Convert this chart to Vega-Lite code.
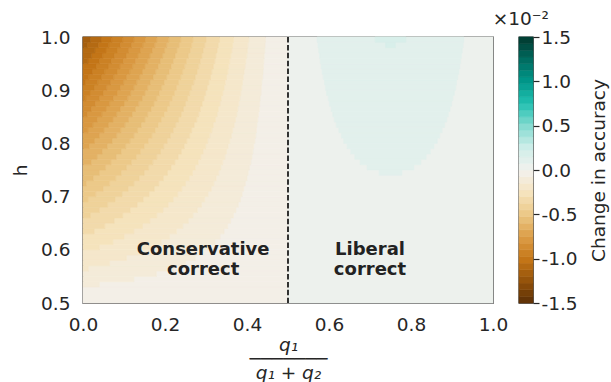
{
"$schema": "https://vega.github.io/schema/vega-lite/v6.json",
"background": "white",
"padding": {"left": 10, "top": 8, "right": 2, "bottom": 0},
"bounds": "flush",
"spacing": 26,
"config": {"font": "DejaVu Sans", "view": {"stroke": "#333333", "strokeWidth": 1.4}},
"hconcat": [
{
"width": 410, "height": 266,
"layer": [
{
"data": {"values": [
{"x1":0,"x2":0.5,"h1":0.5,"h2":0.53,"v":-0.0375},
{"x1":0.5,"x2":1,"h1":0.5,"h2":1,"v":0.0375},
{"x1":0.04,"x2":0.5,"h1":0.53,"h2":0.54,"v":-0.0375},
{"x1":0,"x2":0.04,"h1":0.53,"h2":0.54,"v":-0.1125},
{"x1":0.124,"x2":0.5,"h1":0.54,"h2":0.55,"v":-0.0375},
{"x1":0,"x2":0.124,"h1":0.54,"h2":0.55,"v":-0.1125},
{"x1":0.179,"x2":0.5,"h1":0.55,"h2":0.56,"v":-0.0375},
{"x1":0,"x2":0.179,"h1":0.55,"h2":0.56,"v":-0.1125},
{"x1":0.22,"x2":0.5,"h1":0.56,"h2":0.57,"v":-0.0375},
{"x1":0.013,"x2":0.22,"h1":0.56,"h2":0.57,"v":-0.1125},
{"x1":0,"x2":0.013,"h1":0.56,"h2":0.57,"v":-0.1875},
{"x1":0.25,"x2":0.5,"h1":0.57,"h2":0.58,"v":-0.0375},
{"x1":0.065,"x2":0.25,"h1":0.57,"h2":0.58,"v":-0.1125},
{"x1":0,"x2":0.065,"h1":0.57,"h2":0.58,"v":-0.1875},
{"x1":0.274,"x2":0.5,"h1":0.58,"h2":0.59,"v":-0.0375},
{"x1":0.106,"x2":0.274,"h1":0.58,"h2":0.59,"v":-0.1125},
{"x1":0,"x2":0.106,"h1":0.58,"h2":0.59,"v":-0.1875},
{"x1":0.293,"x2":0.5,"h1":0.59,"h2":0.6,"v":-0.0375},
{"x1":0.139,"x2":0.293,"h1":0.59,"h2":0.6,"v":-0.1125},
{"x1":0,"x2":0.139,"h1":0.59,"h2":0.6,"v":-0.1875},
{"x1":0.309,"x2":0.5,"h1":0.6,"h2":0.61,"v":-0.0375},
{"x1":0.167,"x2":0.309,"h1":0.6,"h2":0.61,"v":-0.1125},
{"x1":0.04,"x2":0.167,"h1":0.6,"h2":0.61,"v":-0.1875},
{"x1":0,"x2":0.04,"h1":0.6,"h2":0.61,"v":-0.2625},
{"x1":0.322,"x2":0.5,"h1":0.61,"h2":0.62,"v":-0.0375},
{"x1":0.191,"x2":0.322,"h1":0.61,"h2":0.62,"v":-0.1125},
{"x1":0.073,"x2":0.191,"h1":0.61,"h2":0.62,"v":-0.1875},
{"x1":0,"x2":0.073,"h1":0.61,"h2":0.62,"v":-0.2625},
{"x1":0.334,"x2":0.5,"h1":0.62,"h2":0.63,"v":-0.0375},
{"x1":0.211,"x2":0.334,"h1":0.62,"h2":0.63,"v":-0.1125},
{"x1":0.1,"x2":0.211,"h1":0.62,"h2":0.63,"v":-0.1875},
{"x1":0,"x2":0.1,"h1":0.62,"h2":0.63,"v":-0.2625},
{"x1":0.344,"x2":0.5,"h1":0.63,"h2":0.64,"v":-0.0375},
{"x1":0.228,"x2":0.344,"h1":0.63,"h2":0.64,"v":-0.1125},
{"x1":0.124,"x2":0.228,"h1":0.63,"h2":0.64,"v":-0.1875},
{"x1":0.027,"x2":0.124,"h1":0.63,"h2":0.64,"v":-0.2625},
{"x1":0,"x2":0.027,"h1":0.63,"h2":0.64,"v":-0.3375},
{"x1":0.353,"x2":0.5,"h1":0.64,"h2":0.65,"v":-0.0375},
{"x1":0.243,"x2":0.353,"h1":0.64,"h2":0.65,"v":-0.1125},
{"x1":0.145,"x2":0.243,"h1":0.64,"h2":0.65,"v":-0.1875},
{"x1":0.053,"x2":0.145,"h1":0.64,"h2":0.65,"v":-0.2625},
{"x1":0,"x2":0.053,"h1":0.64,"h2":0.65,"v":-0.3375},
{"x1":0.36,"x2":0.5,"h1":0.65,"h2":0.66,"v":-0.0375},
{"x1":0.257,"x2":0.36,"h1":0.65,"h2":0.66,"v":-0.1125},
{"x1":0.163,"x2":0.257,"h1":0.65,"h2":0.66,"v":-0.1875},
{"x1":0.076,"x2":0.163,"h1":0.65,"h2":0.66,"v":-0.2625},
{"x1":0,"x2":0.076,"h1":0.65,"h2":0.66,"v":-0.3375},
{"x1":0.367,"x2":0.5,"h1":0.66,"h2":0.67,"v":-0.0375},
{"x1":0.268,"x2":0.367,"h1":0.66,"h2":0.67,"v":-0.1125},
{"x1":0.18,"x2":0.268,"h1":0.66,"h2":0.67,"v":-0.1875},
{"x1":0.097,"x2":0.18,"h1":0.66,"h2":0.67,"v":-0.2625},
{"x1":0.018,"x2":0.097,"h1":0.66,"h2":0.67,"v":-0.3375},
{"x1":0,"x2":0.018,"h1":0.66,"h2":0.67,"v":-0.4125},
{"x1":0.373,"x2":0.5,"h1":0.67,"h2":0.68,"v":-0.0375},
{"x1":0.279,"x2":0.373,"h1":0.67,"h2":0.68,"v":-0.1125},
{"x1":0.195,"x2":0.279,"h1":0.67,"h2":0.68,"v":-0.1875},
{"x1":0.115,"x2":0.195,"h1":0.67,"h2":0.68,"v":-0.2625},
{"x1":0.04,"x2":0.115,"h1":0.67,"h2":0.68,"v":-0.3375},
{"x1":0,"x2":0.04,"h1":0.67,"h2":0.68,"v":-0.4125},
{"x1":0.379,"x2":0.5,"h1":0.68,"h2":0.69,"v":-0.0375},
{"x1":0.289,"x2":0.379,"h1":0.68,"h2":0.69,"v":-0.1125},
{"x1":0.208,"x2":0.289,"h1":0.68,"h2":0.69,"v":-0.1875},
{"x1":0.132,"x2":0.208,"h1":0.68,"h2":0.69,"v":-0.2625},
{"x1":0.06,"x2":0.132,"h1":0.68,"h2":0.69,"v":-0.3375},
{"x1":0,"x2":0.06,"h1":0.68,"h2":0.69,"v":-0.4125},
{"x1":0.384,"x2":0.5,"h1":0.69,"h2":0.7,"v":-0.0375},
{"x1":0.297,"x2":0.384,"h1":0.69,"h2":0.7,"v":-0.1125},
{"x1":0.22,"x2":0.297,"h1":0.69,"h2":0.7,"v":-0.1875},
{"x1":0.147,"x2":0.22,"h1":0.69,"h2":0.7,"v":-0.2625},
{"x1":0.078,"x2":0.147,"h1":0.69,"h2":0.7,"v":-0.3375},
{"x1":0.012,"x2":0.078,"h1":0.69,"h2":0.7,"v":-0.4125},
{"x1":0,"x2":0.012,"h1":0.69,"h2":0.7,"v":-0.4875},
{"x1":0.388,"x2":0.5,"h1":0.7,"h2":0.71,"v":-0.0375},
{"x1":0.305,"x2":0.388,"h1":0.7,"h2":0.71,"v":-0.1125},
{"x1":0.231,"x2":0.305,"h1":0.7,"h2":0.71,"v":-0.1875},
{"x1":0.161,"x2":0.231,"h1":0.7,"h2":0.71,"v":-0.2625},
{"x1":0.095,"x2":0.161,"h1":0.7,"h2":0.71,"v":-0.3375},
{"x1":0.031,"x2":0.095,"h1":0.7,"h2":0.71,"v":-0.4125},
{"x1":0,"x2":0.031,"h1":0.7,"h2":0.71,"v":-0.4875},
{"x1":0.392,"x2":0.5,"h1":0.71,"h2":0.72,"v":-0.0375},
{"x1":0.313,"x2":0.392,"h1":0.71,"h2":0.72,"v":-0.1125},
{"x1":0.241,"x2":0.313,"h1":0.71,"h2":0.72,"v":-0.1875},
{"x1":0.174,"x2":0.241,"h1":0.71,"h2":0.72,"v":-0.2625},
{"x1":0.11,"x2":0.174,"h1":0.71,"h2":0.72,"v":-0.3375},
{"x1":0.049,"x2":0.11,"h1":0.71,"h2":0.72,"v":-0.4125},
{"x1":0,"x2":0.049,"h1":0.71,"h2":0.72,"v":-0.4875},
{"x1":0.396,"x2":0.5,"h1":0.72,"h2":0.73,"v":-0.0375},
{"x1":0.319,"x2":0.396,"h1":0.72,"h2":0.73,"v":-0.1125},
{"x1":0.25,"x2":0.319,"h1":0.72,"h2":0.73,"v":-0.1875},
{"x1":0.185,"x2":0.25,"h1":0.72,"h2":0.73,"v":-0.2625},
{"x1":0.124,"x2":0.185,"h1":0.72,"h2":0.73,"v":-0.3375},
{"x1":0.065,"x2":0.124,"h1":0.72,"h2":0.73,"v":-0.4125},
{"x1":0.008,"x2":0.065,"h1":0.72,"h2":0.73,"v":-0.4875},
{"x1":0,"x2":0.008,"h1":0.72,"h2":0.73,"v":-0.5625},
{"x1":0.4,"x2":0.5,"h1":0.73,"h2":0.74,"v":-0.0375},
{"x1":0.325,"x2":0.4,"h1":0.73,"h2":0.74,"v":-0.1125},
{"x1":0.259,"x2":0.325,"h1":0.73,"h2":0.74,"v":-0.1875},
{"x1":0.196,"x2":0.259,"h1":0.73,"h2":0.74,"v":-0.2625},
{"x1":0.137,"x2":0.196,"h1":0.73,"h2":0.74,"v":-0.3375},
{"x1":0.08,"x2":0.137,"h1":0.73,"h2":0.74,"v":-0.4125},
{"x1":0.025,"x2":0.08,"h1":0.73,"h2":0.74,"v":-0.4875},
{"x1":0,"x2":0.025,"h1":0.73,"h2":0.74,"v":-0.5625},
{"x1":0.403,"x2":0.5,"h1":0.74,"h2":0.75,"v":-0.0375},
{"x1":0.331,"x2":0.403,"h1":0.74,"h2":0.75,"v":-0.1125},
{"x1":0.267,"x2":0.331,"h1":0.74,"h2":0.75,"v":-0.1875},
{"x1":0.206,"x2":0.267,"h1":0.74,"h2":0.75,"v":-0.2625},
{"x1":0.149,"x2":0.206,"h1":0.74,"h2":0.75,"v":-0.3375},
{"x1":0.093,"x2":0.149,"h1":0.74,"h2":0.75,"v":-0.4125},
{"x1":0.04,"x2":0.093,"h1":0.74,"h2":0.75,"v":-0.4875},
{"x1":0,"x2":0.04,"h1":0.74,"h2":0.75,"v":-0.5625},
{"x1":0.406,"x2":0.5,"h1":0.75,"h2":0.76,"v":-0.0375},
{"x1":0.336,"x2":0.406,"h1":0.75,"h2":0.76,"v":-0.1125},
{"x1":0.274,"x2":0.336,"h1":0.75,"h2":0.76,"v":-0.1875},
{"x1":0.215,"x2":0.274,"h1":0.75,"h2":0.76,"v":-0.2625},
{"x1":0.16,"x2":0.215,"h1":0.75,"h2":0.76,"v":-0.3375},
{"x1":0.106,"x2":0.16,"h1":0.75,"h2":0.76,"v":-0.4125},
{"x1":0.055,"x2":0.106,"h1":0.75,"h2":0.76,"v":-0.4875},
{"x1":0,"x2":0.055,"h1":0.75,"h2":0.76,"v":-0.5625},
{"x1":0.409,"x2":0.5,"h1":0.76,"h2":0.77,"v":-0.0375},
{"x1":0.341,"x2":0.409,"h1":0.76,"h2":0.77,"v":-0.1125},
{"x1":0.281,"x2":0.341,"h1":0.76,"h2":0.77,"v":-0.1875},
{"x1":0.224,"x2":0.281,"h1":0.76,"h2":0.77,"v":-0.2625},
{"x1":0.17,"x2":0.224,"h1":0.76,"h2":0.77,"v":-0.3375},
{"x1":0.118,"x2":0.17,"h1":0.76,"h2":0.77,"v":-0.4125},
{"x1":0.068,"x2":0.118,"h1":0.76,"h2":0.77,"v":-0.4875},
{"x1":0.02,"x2":0.068,"h1":0.76,"h2":0.77,"v":-0.5625},
{"x1":0,"x2":0.02,"h1":0.76,"h2":0.77,"v":-0.6375},
{"x1":0.412,"x2":0.5,"h1":0.77,"h2":0.78,"v":-0.0375},
{"x1":0.346,"x2":0.412,"h1":0.77,"h2":0.78,"v":-0.1125},
{"x1":0.287,"x2":0.346,"h1":0.77,"h2":0.78,"v":-0.1875},
{"x1":0.232,"x2":0.287,"h1":0.77,"h2":0.78,"v":-0.2625},
{"x1":0.18,"x2":0.232,"h1":0.77,"h2":0.78,"v":-0.3375},
{"x1":0.13,"x2":0.18,"h1":0.77,"h2":0.78,"v":-0.4125},
{"x1":0.081,"x2":0.13,"h1":0.77,"h2":0.78,"v":-0.4875},
{"x1":0.034,"x2":0.081,"h1":0.77,"h2":0.78,"v":-0.5625},
{"x1":0,"x2":0.034,"h1":0.77,"h2":0.78,"v":-0.6375},
{"x1":0.414,"x2":0.5,"h1":0.78,"h2":0.79,"v":-0.0375},
{"x1":0.35,"x2":0.414,"h1":0.78,"h2":0.79,"v":-0.1125},
{"x1":0.293,"x2":0.35,"h1":0.78,"h2":0.79,"v":-0.1875},
{"x1":0.24,"x2":0.293,"h1":0.78,"h2":0.79,"v":-0.2625},
{"x1":0.189,"x2":0.24,"h1":0.78,"h2":0.79,"v":-0.3375},
{"x1":0.14,"x2":0.189,"h1":0.78,"h2":0.79,"v":-0.4125},
{"x1":0.093,"x2":0.14,"h1":0.78,"h2":0.79,"v":-0.4875},
{"x1":0.047,"x2":0.093,"h1":0.78,"h2":0.79,"v":-0.5625},
{"x1":0,"x2":0.047,"h1":0.78,"h2":0.79,"v":-0.6375},
{"x1":0.416,"x2":0.5,"h1":0.79,"h2":0.8,"v":-0.0375},
{"x1":0.354,"x2":0.416,"h1":0.79,"h2":0.8,"v":-0.1125},
{"x1":0.299,"x2":0.354,"h1":0.79,"h2":0.8,"v":-0.1875},
{"x1":0.247,"x2":0.299,"h1":0.79,"h2":0.8,"v":-0.2625},
{"x1":0.197,"x2":0.247,"h1":0.79,"h2":0.8,"v":-0.3375},
{"x1":0.149,"x2":0.197,"h1":0.79,"h2":0.8,"v":-0.4125},
{"x1":0.104,"x2":0.149,"h1":0.79,"h2":0.8,"v":-0.4875},
{"x1":0.059,"x2":0.104,"h1":0.79,"h2":0.8,"v":-0.5625},
{"x1":0.015,"x2":0.059,"h1":0.79,"h2":0.8,"v":-0.6375},
{"x1":0,"x2":0.015,"h1":0.79,"h2":0.8,"v":-0.7125},
{"x1":0.419,"x2":0.5,"h1":0.8,"h2":0.81,"v":-0.0375},
{"x1":0.358,"x2":0.419,"h1":0.8,"h2":0.81,"v":-0.1125},
{"x1":0.304,"x2":0.358,"h1":0.8,"h2":0.81,"v":-0.1875},
{"x1":0.253,"x2":0.304,"h1":0.8,"h2":0.81,"v":-0.2625},
{"x1":0.205,"x2":0.253,"h1":0.8,"h2":0.81,"v":-0.3375},
{"x1":0.159,"x2":0.205,"h1":0.8,"h2":0.81,"v":-0.4125},
{"x1":0.114,"x2":0.159,"h1":0.8,"h2":0.81,"v":-0.4875},
{"x1":0.071,"x2":0.114,"h1":0.8,"h2":0.81,"v":-0.5625},
{"x1":0.028,"x2":0.071,"h1":0.8,"h2":0.81,"v":-0.6375},
{"x1":0,"x2":0.028,"h1":0.8,"h2":0.81,"v":-0.7125},
{"x1":0.421,"x2":0.5,"h1":0.81,"h2":0.82,"v":-0.0375},
{"x1":0.362,"x2":0.421,"h1":0.81,"h2":0.82,"v":-0.1125},
{"x1":0.309,"x2":0.362,"h1":0.81,"h2":0.82,"v":-0.1875},
{"x1":0.26,"x2":0.309,"h1":0.81,"h2":0.82,"v":-0.2625},
{"x1":0.213,"x2":0.26,"h1":0.81,"h2":0.82,"v":-0.3375},
{"x1":0.168,"x2":0.213,"h1":0.81,"h2":0.82,"v":-0.4125},
{"x1":0.124,"x2":0.168,"h1":0.81,"h2":0.82,"v":-0.4875},
{"x1":0.082,"x2":0.124,"h1":0.81,"h2":0.82,"v":-0.5625},
{"x1":0.04,"x2":0.082,"h1":0.81,"h2":0.82,"v":-0.6375},
{"x1":0,"x2":0.04,"h1":0.81,"h2":0.82,"v":-0.7125},
{"x1":0.423,"x2":0.5,"h1":0.82,"h2":0.83,"v":-0.0375},
{"x1":0.365,"x2":0.423,"h1":0.82,"h2":0.83,"v":-0.1125},
{"x1":0.314,"x2":0.365,"h1":0.82,"h2":0.83,"v":-0.1875},
{"x1":0.265,"x2":0.314,"h1":0.82,"h2":0.83,"v":-0.2625},
{"x1":0.22,"x2":0.265,"h1":0.82,"h2":0.83,"v":-0.3375},
{"x1":0.176,"x2":0.22,"h1":0.82,"h2":0.83,"v":-0.4125},
{"x1":0.133,"x2":0.176,"h1":0.82,"h2":0.83,"v":-0.4875},
{"x1":0.092,"x2":0.133,"h1":0.82,"h2":0.83,"v":-0.5625},
{"x1":0.051,"x2":0.092,"h1":0.82,"h2":0.83,"v":-0.6375},
{"x1":0.012,"x2":0.051,"h1":0.82,"h2":0.83,"v":-0.7125},
{"x1":0,"x2":0.012,"h1":0.82,"h2":0.83,"v":-0.7875},
{"x1":0.424,"x2":0.5,"h1":0.83,"h2":0.84,"v":-0.0375},
{"x1":0.369,"x2":0.424,"h1":0.83,"h2":0.84,"v":-0.1125},
{"x1":0.318,"x2":0.369,"h1":0.83,"h2":0.84,"v":-0.1875},
{"x1":0.271,"x2":0.318,"h1":0.83,"h2":0.84,"v":-0.2625},
{"x1":0.226,"x2":0.271,"h1":0.83,"h2":0.84,"v":-0.3375},
{"x1":0.183,"x2":0.226,"h1":0.83,"h2":0.84,"v":-0.4125},
{"x1":0.142,"x2":0.183,"h1":0.83,"h2":0.84,"v":-0.4875},
{"x1":0.102,"x2":0.142,"h1":0.83,"h2":0.84,"v":-0.5625},
{"x1":0.062,"x2":0.102,"h1":0.83,"h2":0.84,"v":-0.6375},
{"x1":0.024,"x2":0.062,"h1":0.83,"h2":0.84,"v":-0.7125},
{"x1":0,"x2":0.024,"h1":0.83,"h2":0.84,"v":-0.7875},
{"x1":0.426,"x2":0.5,"h1":0.84,"h2":0.85,"v":-0.0375},
{"x1":0.372,"x2":0.426,"h1":0.84,"h2":0.85,"v":-0.1125},
{"x1":0.323,"x2":0.372,"h1":0.84,"h2":0.85,"v":-0.1875},
{"x1":0.277,"x2":0.323,"h1":0.84,"h2":0.85,"v":-0.2625},
{"x1":0.233,"x2":0.277,"h1":0.84,"h2":0.85,"v":-0.3375},
{"x1":0.191,"x2":0.233,"h1":0.84,"h2":0.85,"v":-0.4125},
{"x1":0.151,"x2":0.191,"h1":0.84,"h2":0.85,"v":-0.4875},
{"x1":0.111,"x2":0.151,"h1":0.84,"h2":0.85,"v":-0.5625},
{"x1":0.073,"x2":0.111,"h1":0.84,"h2":0.85,"v":-0.6375},
{"x1":0.035,"x2":0.073,"h1":0.84,"h2":0.85,"v":-0.7125},
{"x1":0,"x2":0.035,"h1":0.84,"h2":0.85,"v":-0.7875},
{"x1":0.428,"x2":0.5,"h1":0.85,"h2":0.86,"v":-0.0375},
{"x1":0.375,"x2":0.428,"h1":0.85,"h2":0.86,"v":-0.1125},
{"x1":0.327,"x2":0.375,"h1":0.85,"h2":0.86,"v":-0.1875},
{"x1":0.282,"x2":0.327,"h1":0.85,"h2":0.86,"v":-0.2625},
{"x1":0.239,"x2":0.282,"h1":0.85,"h2":0.86,"v":-0.3375},
{"x1":0.198,"x2":0.239,"h1":0.85,"h2":0.86,"v":-0.4125},
{"x1":0.158,"x2":0.198,"h1":0.85,"h2":0.86,"v":-0.4875},
{"x1":0.12,"x2":0.158,"h1":0.85,"h2":0.86,"v":-0.5625},
{"x1":0.082,"x2":0.12,"h1":0.85,"h2":0.86,"v":-0.6375},
{"x1":0.046,"x2":0.082,"h1":0.85,"h2":0.86,"v":-0.7125},
{"x1":0.01,"x2":0.046,"h1":0.85,"h2":0.86,"v":-0.7875},
{"x1":0,"x2":0.01,"h1":0.85,"h2":0.86,"v":-0.8625},
{"x1":0.43,"x2":0.5,"h1":0.86,"h2":0.87,"v":-0.0375},
{"x1":0.377,"x2":0.43,"h1":0.86,"h2":0.87,"v":-0.1125},
{"x1":0.33,"x2":0.377,"h1":0.86,"h2":0.87,"v":-0.1875},
{"x1":0.286,"x2":0.33,"h1":0.86,"h2":0.87,"v":-0.2625},
{"x1":0.245,"x2":0.286,"h1":0.86,"h2":0.87,"v":-0.3375},
{"x1":0.205,"x2":0.245,"h1":0.86,"h2":0.87,"v":-0.4125},
{"x1":0.166,"x2":0.205,"h1":0.86,"h2":0.87,"v":-0.4875},
{"x1":0.128,"x2":0.166,"h1":0.86,"h2":0.87,"v":-0.5625},
{"x1":0.091,"x2":0.128,"h1":0.86,"h2":0.87,"v":-0.6375},
{"x1":0.056,"x2":0.091,"h1":0.86,"h2":0.87,"v":-0.7125},
{"x1":0.02,"x2":0.056,"h1":0.86,"h2":0.87,"v":-0.7875},
{"x1":0,"x2":0.02,"h1":0.86,"h2":0.87,"v":-0.8625},
{"x1":0.431,"x2":0.5,"h1":0.87,"h2":0.88,"v":-0.0375},
{"x1":0.38,"x2":0.431,"h1":0.87,"h2":0.88,"v":-0.1125},
{"x1":0.334,"x2":0.38,"h1":0.87,"h2":0.88,"v":-0.1875},
{"x1":0.291,"x2":0.334,"h1":0.87,"h2":0.88,"v":-0.2625},
{"x1":0.25,"x2":0.291,"h1":0.87,"h2":0.88,"v":-0.3375},
{"x1":0.211,"x2":0.25,"h1":0.87,"h2":0.88,"v":-0.4125},
{"x1":0.173,"x2":0.211,"h1":0.87,"h2":0.88,"v":-0.4875},
{"x1":0.136,"x2":0.173,"h1":0.87,"h2":0.88,"v":-0.5625},
{"x1":0.1,"x2":0.136,"h1":0.87,"h2":0.88,"v":-0.6375},
{"x1":0.065,"x2":0.1,"h1":0.87,"h2":0.88,"v":-0.7125},
{"x1":0.03,"x2":0.065,"h1":0.87,"h2":0.88,"v":-0.7875},
{"x1":0,"x2":0.03,"h1":0.87,"h2":0.88,"v":-0.8625},
{"x1":0.432,"x2":0.5,"h1":0.88,"h2":0.89,"v":-0.0375},
{"x1":0.382,"x2":0.432,"h1":0.88,"h2":0.89,"v":-0.1125},
{"x1":0.337,"x2":0.382,"h1":0.88,"h2":0.89,"v":-0.1875},
{"x1":0.295,"x2":0.337,"h1":0.88,"h2":0.89,"v":-0.2625},
{"x1":0.255,"x2":0.295,"h1":0.88,"h2":0.89,"v":-0.3375},
{"x1":0.217,"x2":0.255,"h1":0.88,"h2":0.89,"v":-0.4125},
{"x1":0.18,"x2":0.217,"h1":0.88,"h2":0.89,"v":-0.4875},
{"x1":0.144,"x2":0.18,"h1":0.88,"h2":0.89,"v":-0.5625},
{"x1":0.109,"x2":0.144,"h1":0.88,"h2":0.89,"v":-0.6375},
{"x1":0.074,"x2":0.109,"h1":0.88,"h2":0.89,"v":-0.7125},
{"x1":0.04,"x2":0.074,"h1":0.88,"h2":0.89,"v":-0.7875},
{"x1":0.007,"x2":0.04,"h1":0.88,"h2":0.89,"v":-0.8625},
{"x1":0,"x2":0.007,"h1":0.88,"h2":0.89,"v":-0.9375},
{"x1":0.434,"x2":0.5,"h1":0.89,"h2":0.9,"v":-0.0375},
{"x1":0.385,"x2":0.434,"h1":0.89,"h2":0.9,"v":-0.1125},
{"x1":0.341,"x2":0.385,"h1":0.89,"h2":0.9,"v":-0.1875},
{"x1":0.299,"x2":0.341,"h1":0.89,"h2":0.9,"v":-0.2625},
{"x1":0.26,"x2":0.299,"h1":0.89,"h2":0.9,"v":-0.3375},
{"x1":0.223,"x2":0.26,"h1":0.89,"h2":0.9,"v":-0.4125},
{"x1":0.186,"x2":0.223,"h1":0.89,"h2":0.9,"v":-0.4875},
{"x1":0.151,"x2":0.186,"h1":0.89,"h2":0.9,"v":-0.5625},
{"x1":0.116,"x2":0.151,"h1":0.89,"h2":0.9,"v":-0.6375},
{"x1":0.083,"x2":0.116,"h1":0.89,"h2":0.9,"v":-0.7125},
{"x1":0.049,"x2":0.083,"h1":0.89,"h2":0.9,"v":-0.7875},
{"x1":0.017,"x2":0.049,"h1":0.89,"h2":0.9,"v":-0.8625},
{"x1":0,"x2":0.017,"h1":0.89,"h2":0.9,"v":-0.9375},
{"x1":0.435,"x2":0.5,"h1":0.9,"h2":0.91,"v":-0.0375},
{"x1":0.387,"x2":0.435,"h1":0.9,"h2":0.91,"v":-0.1125},
{"x1":0.344,"x2":0.387,"h1":0.9,"h2":0.91,"v":-0.1875},
{"x1":0.303,"x2":0.344,"h1":0.9,"h2":0.91,"v":-0.2625},
{"x1":0.265,"x2":0.303,"h1":0.9,"h2":0.91,"v":-0.3375},
{"x1":0.228,"x2":0.265,"h1":0.9,"h2":0.91,"v":-0.4125},
{"x1":0.192,"x2":0.228,"h1":0.9,"h2":0.91,"v":-0.4875},
{"x1":0.158,"x2":0.192,"h1":0.9,"h2":0.91,"v":-0.5625},
{"x1":0.124,"x2":0.158,"h1":0.9,"h2":0.91,"v":-0.6375},
{"x1":0.091,"x2":0.124,"h1":0.9,"h2":0.91,"v":-0.7125},
{"x1":0.058,"x2":0.091,"h1":0.9,"h2":0.91,"v":-0.7875},
{"x1":0.027,"x2":0.058,"h1":0.9,"h2":0.91,"v":-0.8625},
{"x1":0,"x2":0.027,"h1":0.9,"h2":0.91,"v":-0.9375},
{"x1":0.436,"x2":0.5,"h1":0.91,"h2":0.92,"v":-0.0375},
{"x1":0.389,"x2":0.436,"h1":0.91,"h2":0.92,"v":-0.1125},
{"x1":0.347,"x2":0.389,"h1":0.91,"h2":0.92,"v":-0.1875},
{"x1":0.307,"x2":0.347,"h1":0.91,"h2":0.92,"v":-0.2625},
{"x1":0.27,"x2":0.307,"h1":0.91,"h2":0.92,"v":-0.3375},
{"x1":0.233,"x2":0.27,"h1":0.91,"h2":0.92,"v":-0.4125},
{"x1":0.198,"x2":0.233,"h1":0.91,"h2":0.92,"v":-0.4875},
{"x1":0.164,"x2":0.198,"h1":0.91,"h2":0.92,"v":-0.5625},
{"x1":0.131,"x2":0.164,"h1":0.91,"h2":0.92,"v":-0.6375},
{"x1":0.099,"x2":0.131,"h1":0.91,"h2":0.92,"v":-0.7125},
{"x1":0.067,"x2":0.099,"h1":0.91,"h2":0.92,"v":-0.7875},
{"x1":0.036,"x2":0.067,"h1":0.91,"h2":0.92,"v":-0.8625},
{"x1":0.005,"x2":0.036,"h1":0.91,"h2":0.92,"v":-0.9375},
{"x1":0,"x2":0.005,"h1":0.91,"h2":0.92,"v":-1.0125},
{"x1":0.438,"x2":0.5,"h1":0.92,"h2":0.93,"v":-0.0375},
{"x1":0.391,"x2":0.438,"h1":0.92,"h2":0.93,"v":-0.1125},
{"x1":0.35,"x2":0.391,"h1":0.92,"h2":0.93,"v":-0.1875},
{"x1":0.311,"x2":0.35,"h1":0.92,"h2":0.93,"v":-0.2625},
{"x1":0.274,"x2":0.311,"h1":0.92,"h2":0.93,"v":-0.3375},
{"x1":0.238,"x2":0.274,"h1":0.92,"h2":0.93,"v":-0.4125},
{"x1":0.204,"x2":0.238,"h1":0.92,"h2":0.93,"v":-0.4875},
{"x1":0.171,"x2":0.204,"h1":0.92,"h2":0.93,"v":-0.5625},
{"x1":0.138,"x2":0.171,"h1":0.92,"h2":0.93,"v":-0.6375},
{"x1":0.106,"x2":0.138,"h1":0.92,"h2":0.93,"v":-0.7125},
{"x1":0.075,"x2":0.106,"h1":0.92,"h2":0.93,"v":-0.7875},
{"x1":0.045,"x2":0.075,"h1":0.92,"h2":0.93,"v":-0.8625},
{"x1":0.014,"x2":0.045,"h1":0.92,"h2":0.93,"v":-0.9375},
{"x1":0,"x2":0.014,"h1":0.92,"h2":0.93,"v":-1.0125},
{"x1":0.439,"x2":0.5,"h1":0.93,"h2":0.94,"v":-0.0375},
{"x1":0.393,"x2":0.439,"h1":0.93,"h2":0.94,"v":-0.1125},
{"x1":0.353,"x2":0.393,"h1":0.93,"h2":0.94,"v":-0.1875},
{"x1":0.314,"x2":0.353,"h1":0.93,"h2":0.94,"v":-0.2625},
{"x1":0.278,"x2":0.314,"h1":0.93,"h2":0.94,"v":-0.3375},
{"x1":0.243,"x2":0.278,"h1":0.93,"h2":0.94,"v":-0.4125},
{"x1":0.21,"x2":0.243,"h1":0.93,"h2":0.94,"v":-0.4875},
{"x1":0.177,"x2":0.21,"h1":0.93,"h2":0.94,"v":-0.5625},
{"x1":0.145,"x2":0.177,"h1":0.93,"h2":0.94,"v":-0.6375},
{"x1":0.114,"x2":0.145,"h1":0.93,"h2":0.94,"v":-0.7125},
{"x1":0.083,"x2":0.114,"h1":0.93,"h2":0.94,"v":-0.7875},
{"x1":0.053,"x2":0.083,"h1":0.93,"h2":0.94,"v":-0.8625},
{"x1":0.023,"x2":0.053,"h1":0.93,"h2":0.94,"v":-0.9375},
{"x1":0,"x2":0.023,"h1":0.93,"h2":0.94,"v":-1.0125},
{"x1":0.44,"x2":0.5,"h1":0.94,"h2":0.95,"v":-0.0375},
{"x1":0.395,"x2":0.44,"h1":0.94,"h2":0.95,"v":-0.1125},
{"x1":0.355,"x2":0.395,"h1":0.94,"h2":0.95,"v":-0.1875},
{"x1":0.318,"x2":0.355,"h1":0.94,"h2":0.95,"v":-0.2625},
{"x1":0.282,"x2":0.318,"h1":0.94,"h2":0.95,"v":-0.3375},
{"x1":0.248,"x2":0.282,"h1":0.94,"h2":0.95,"v":-0.4125},
{"x1":0.215,"x2":0.248,"h1":0.94,"h2":0.95,"v":-0.4875},
{"x1":0.183,"x2":0.215,"h1":0.94,"h2":0.95,"v":-0.5625},
{"x1":0.151,"x2":0.183,"h1":0.94,"h2":0.95,"v":-0.6375},
{"x1":0.121,"x2":0.151,"h1":0.94,"h2":0.95,"v":-0.7125},
{"x1":0.09,"x2":0.121,"h1":0.94,"h2":0.95,"v":-0.7875},
{"x1":0.061,"x2":0.09,"h1":0.94,"h2":0.95,"v":-0.8625},
{"x1":0.032,"x2":0.061,"h1":0.94,"h2":0.95,"v":-0.9375},
{"x1":0,"x2":0.032,"h1":0.94,"h2":0.95,"v":-1.0125},
{"x1":0.441,"x2":0.5,"h1":0.95,"h2":0.96,"v":-0.0375},
{"x1":0.397,"x2":0.441,"h1":0.95,"h2":0.96,"v":-0.1125},
{"x1":0.358,"x2":0.397,"h1":0.95,"h2":0.96,"v":-0.1875},
{"x1":0.321,"x2":0.358,"h1":0.95,"h2":0.96,"v":-0.2625},
{"x1":0.286,"x2":0.321,"h1":0.95,"h2":0.96,"v":-0.3375},
{"x1":0.252,"x2":0.286,"h1":0.95,"h2":0.96,"v":-0.4125},
{"x1":0.22,"x2":0.252,"h1":0.95,"h2":0.96,"v":-0.4875},
{"x1":0.188,"x2":0.22,"h1":0.95,"h2":0.96,"v":-0.5625},
{"x1":0.158,"x2":0.188,"h1":0.95,"h2":0.96,"v":-0.6375},
{"x1":0.127,"x2":0.158,"h1":0.95,"h2":0.96,"v":-0.7125},
{"x1":0.098,"x2":0.127,"h1":0.95,"h2":0.96,"v":-0.7875},
{"x1":0.069,"x2":0.098,"h1":0.95,"h2":0.96,"v":-0.8625},
{"x1":0.04,"x2":0.069,"h1":0.95,"h2":0.96,"v":-0.9375},
{"x1":0.012,"x2":0.04,"h1":0.95,"h2":0.96,"v":-1.0125},
{"x1":0,"x2":0.012,"h1":0.95,"h2":0.96,"v":-1.0875},
{"x1":0.442,"x2":0.5,"h1":0.96,"h2":0.97,"v":-0.0375},
{"x1":0.399,"x2":0.442,"h1":0.96,"h2":0.97,"v":-0.1125},
{"x1":0.36,"x2":0.399,"h1":0.96,"h2":0.97,"v":-0.1875},
{"x1":0.324,"x2":0.36,"h1":0.96,"h2":0.97,"v":-0.2625},
{"x1":0.29,"x2":0.324,"h1":0.96,"h2":0.97,"v":-0.3375},
{"x1":0.257,"x2":0.29,"h1":0.96,"h2":0.97,"v":-0.4125},
{"x1":0.225,"x2":0.257,"h1":0.96,"h2":0.97,"v":-0.4875},
{"x1":0.194,"x2":0.225,"h1":0.96,"h2":0.97,"v":-0.5625},
{"x1":0.163,"x2":0.194,"h1":0.96,"h2":0.97,"v":-0.6375},
{"x1":0.134,"x2":0.163,"h1":0.96,"h2":0.97,"v":-0.7125},
{"x1":0.105,"x2":0.134,"h1":0.96,"h2":0.97,"v":-0.7875},
{"x1":0.076,"x2":0.105,"h1":0.96,"h2":0.97,"v":-0.8625},
{"x1":0.048,"x2":0.076,"h1":0.96,"h2":0.97,"v":-0.9375},
{"x1":0.021,"x2":0.048,"h1":0.96,"h2":0.97,"v":-1.0125},
{"x1":0,"x2":0.021,"h1":0.96,"h2":0.97,"v":-1.0875},
{"x1":0.443,"x2":0.5,"h1":0.97,"h2":0.98,"v":-0.0375},
{"x1":0.401,"x2":0.443,"h1":0.97,"h2":0.98,"v":-0.1125},
{"x1":0.363,"x2":0.401,"h1":0.97,"h2":0.98,"v":-0.1875},
{"x1":0.327,"x2":0.363,"h1":0.97,"h2":0.98,"v":-0.2625},
{"x1":0.293,"x2":0.327,"h1":0.97,"h2":0.98,"v":-0.3375},
{"x1":0.261,"x2":0.293,"h1":0.97,"h2":0.98,"v":-0.4125},
{"x1":0.229,"x2":0.261,"h1":0.97,"h2":0.98,"v":-0.4875},
{"x1":0.199,"x2":0.229,"h1":0.97,"h2":0.98,"v":-0.5625},
{"x1":0.169,"x2":0.199,"h1":0.97,"h2":0.98,"v":-0.6375},
{"x1":0.14,"x2":0.169,"h1":0.97,"h2":0.98,"v":-0.7125},
{"x1":0.111,"x2":0.14,"h1":0.97,"h2":0.98,"v":-0.7875},
{"x1":0.083,"x2":0.111,"h1":0.97,"h2":0.98,"v":-0.8625},
{"x1":0.056,"x2":0.083,"h1":0.97,"h2":0.98,"v":-0.9375},
{"x1":0.029,"x2":0.056,"h1":0.97,"h2":0.98,"v":-1.0125},
{"x1":0,"x2":0.029,"h1":0.97,"h2":0.98,"v":-1.0875},
{"x1":0.444,"x2":0.5,"h1":0.98,"h2":0.99,"v":-0.0375},
{"x1":0.402,"x2":0.444,"h1":0.98,"h2":0.99,"v":-0.1125},
{"x1":0.365,"x2":0.402,"h1":0.98,"h2":0.99,"v":-0.1875},
{"x1":0.33,"x2":0.365,"h1":0.98,"h2":0.99,"v":-0.2625},
{"x1":0.297,"x2":0.33,"h1":0.98,"h2":0.99,"v":-0.3375},
{"x1":0.265,"x2":0.297,"h1":0.98,"h2":0.99,"v":-0.4125},
{"x1":0.234,"x2":0.265,"h1":0.98,"h2":0.99,"v":-0.4875},
{"x1":0.204,"x2":0.234,"h1":0.98,"h2":0.99,"v":-0.5625},
{"x1":0.175,"x2":0.204,"h1":0.98,"h2":0.99,"v":-0.6375},
{"x1":0.146,"x2":0.175,"h1":0.98,"h2":0.99,"v":-0.7125},
{"x1":0.118,"x2":0.146,"h1":0.98,"h2":0.99,"v":-0.7875},
{"x1":0.091,"x2":0.118,"h1":0.98,"h2":0.99,"v":-0.8625},
{"x1":0.063,"x2":0.091,"h1":0.98,"h2":0.99,"v":-0.9375},
{"x1":0.037,"x2":0.063,"h1":0.98,"h2":0.99,"v":-1.0125},
{"x1":0.01,"x2":0.037,"h1":0.98,"h2":0.99,"v":-1.0875},
{"x1":0,"x2":0.01,"h1":0.98,"h2":0.99,"v":-1.1625},
{"x1":0.445,"x2":0.5,"h1":0.99,"h2":1,"v":-0.0375},
{"x1":0.404,"x2":0.445,"h1":0.99,"h2":1,"v":-0.1125},
{"x1":0.367,"x2":0.404,"h1":0.99,"h2":1,"v":-0.1875},
{"x1":0.333,"x2":0.367,"h1":0.99,"h2":1,"v":-0.2625},
{"x1":0.3,"x2":0.333,"h1":0.99,"h2":1,"v":-0.3375},
{"x1":0.268,"x2":0.3,"h1":0.99,"h2":1,"v":-0.4125},
{"x1":0.238,"x2":0.268,"h1":0.99,"h2":1,"v":-0.4875},
{"x1":0.209,"x2":0.238,"h1":0.99,"h2":1,"v":-0.5625},
{"x1":0.18,"x2":0.209,"h1":0.99,"h2":1,"v":-0.6375},
{"x1":0.152,"x2":0.18,"h1":0.99,"h2":1,"v":-0.7125},
{"x1":0.124,"x2":0.152,"h1":0.99,"h2":1,"v":-0.7875},
{"x1":0.097,"x2":0.124,"h1":0.99,"h2":1,"v":-0.8625},
{"x1":0.07,"x2":0.097,"h1":0.99,"h2":1,"v":-0.9375},
{"x1":0.044,"x2":0.07,"h1":0.99,"h2":1,"v":-1.0125},
{"x1":0.018,"x2":0.044,"h1":0.99,"h2":1,"v":-1.0875},
{"x1":0,"x2":0.018,"h1":0.99,"h2":1,"v":-1.1625},
{"x1":0.722,"x2":0.778,"h1":0.74,"h2":0.75,"v":0.1125},
{"x1":0.693,"x2":0.807,"h1":0.75,"h2":0.76,"v":0.1125},
{"x1":0.676,"x2":0.824,"h1":0.76,"h2":0.77,"v":0.1125},
{"x1":0.663,"x2":0.837,"h1":0.77,"h2":0.78,"v":0.1125},
{"x1":0.653,"x2":0.847,"h1":0.78,"h2":0.79,"v":0.1125},
{"x1":0.644,"x2":0.856,"h1":0.79,"h2":0.8,"v":0.1125},
{"x1":0.636,"x2":0.864,"h1":0.8,"h2":0.81,"v":0.1125},
{"x1":0.63,"x2":0.87,"h1":0.81,"h2":0.82,"v":0.1125},
{"x1":0.624,"x2":0.876,"h1":0.82,"h2":0.83,"v":0.1125},
{"x1":0.618,"x2":0.882,"h1":0.83,"h2":0.84,"v":0.1125},
{"x1":0.613,"x2":0.887,"h1":0.84,"h2":0.85,"v":0.1125},
{"x1":0.609,"x2":0.891,"h1":0.85,"h2":0.86,"v":0.1125},
{"x1":0.605,"x2":0.895,"h1":0.86,"h2":0.87,"v":0.1125},
{"x1":0.601,"x2":0.899,"h1":0.87,"h2":0.88,"v":0.1125},
{"x1":0.598,"x2":0.902,"h1":0.88,"h2":0.89,"v":0.1125},
{"x1":0.594,"x2":0.906,"h1":0.89,"h2":0.9,"v":0.1125},
{"x1":0.591,"x2":0.909,"h1":0.9,"h2":0.91,"v":0.1125},
{"x1":0.589,"x2":0.911,"h1":0.91,"h2":0.92,"v":0.1125},
{"x1":0.586,"x2":0.914,"h1":0.92,"h2":0.93,"v":0.1125},
{"x1":0.583,"x2":0.917,"h1":0.93,"h2":0.94,"v":0.1125},
{"x1":0.581,"x2":0.919,"h1":0.94,"h2":0.95,"v":0.1125},
{"x1":0.579,"x2":0.921,"h1":0.95,"h2":0.96,"v":0.1125},
{"x1":0.577,"x2":0.923,"h1":0.96,"h2":0.97,"v":0.1125},
{"x1":0.575,"x2":0.925,"h1":0.97,"h2":0.98,"v":0.1125},
{"x1":0.573,"x2":0.927,"h1":0.98,"h2":0.99,"v":0.1125},
{"x1":0.571,"x2":0.929,"h1":0.99,"h2":1,"v":0.1125},
{"x1":0.738,"x2":0.762,"h1":0.98,"h2":0.99,"v":0.1875},
{"x1":0.7125,"x2":0.7875,"h1":0.99,"h2":1,"v":0.1875}
]},
"mark": {"type": "rect", "strokeWidth": 0.6},
"encoding": {
"x": {"field": "x1", "type": "quantitative", "scale": {"domain": [0, 1], "nice": false, "zero": false},
"axis": {"title": ["q₁", "───────", "q₁ + q₂"], "values": [0, 0.2, 0.4, 0.6, 0.8, 1], "format": ".1f", "labelFontSize": 18.5, "labelColor": "#262626", "labelFlush": false, "labelOverlap": false, "ticks": false, "domain": false, "grid": false, "labelPadding": 12, "titleFontSize": 18.5, "titleFontStyle": "italic", "titleFontWeight": "normal", "titleLineHeight": 14, "titlePadding": 2, "titleColor": "#262626"}},
"x2": {"field": "x2"},
"y": {"field": "h1", "type": "quantitative", "scale": {"domain": [0.5, 1], "nice": false, "zero": false},
"axis": {"title": "h", "values": [0.5, 0.6, 0.7, 0.8, 0.9, 1], "format": ".1f", "labelFontSize": 18.5, "labelColor": "#262626", "labelFlush": false, "labelOverlap": false, "ticks": false, "domain": false, "grid": false, "labelPadding": 13, "titleFontSize": 18.5, "titleFontWeight": "normal", "titlePadding": 10, "titleColor": "#262626"}},
"y2": {"field": "h2"},
"fill": {"field": "v", "type": "quantitative", "legend": null, "scale": {"type": "linear", "domain": [-1.5, -1.25, -1, -0.75, -0.5, -0.25, 0, 0.25, 0.5, 0.75, 1, 1.25, 1.5], "range": ["#5a2f06", "#94520a", "#c57718", "#dc9e48", "#ebc886", "#f6e4bf", "#f2f1ee", "#cfeee9", "#84dad0", "#22c0b1", "#00978a", "#006b5f", "#01382d"], "interpolate": "rgb", "clamp": true}},
"stroke": {"field": "v", "type": "quantitative", "legend": null, "scale": {"type": "linear", "domain": [-1.5, -1.25, -1, -0.75, -0.5, -0.25, 0, 0.25, 0.5, 0.75, 1, 1.25, 1.5], "range": ["#5a2f06", "#94520a", "#c57718", "#dc9e48", "#ebc886", "#f6e4bf", "#f2f1ee", "#cfeee9", "#84dad0", "#22c0b1", "#00978a", "#006b5f", "#01382d"], "interpolate": "rgb", "clamp": true}}
}
},
{
"data": {"values": [{"x": 0.5}]},
"mark": {"type": "rule", "strokeDash": [5.5, 2.4], "strokeWidth": 1.7, "color": "#111111"},
"encoding": {"x": {"field": "x", "type": "quantitative"}}
},
{
"data": {"values": [{"x": 0.293, "h": 0.6, "t": "Conservative\ncorrect"}, {"x": 0.7, "h": 0.6, "t": "Liberal\ncorrect"}]},
"mark": {"type": "text", "fontWeight": "bold", "fontSize": 18, "lineBreak": "\n", "lineHeight": 20, "color": "#222222", "align": "center", "baseline": "middle"},
"encoding": {"x": {"field": "x", "type": "quantitative"}, "y": {"field": "h", "type": "quantitative"}, "text": {"field": "t"}}
}
]
},
{
"width": 14, "height": 266,
"title": {"text": "×10⁻²", "anchor": "start", "fontSize": 18.5, "fontWeight": "normal", "color": "#262626", "dx": -26, "offset": 0},
"data": {"values": [
{"lo":-1.5,"hi":-1.425,"m":-1.4625},{"lo":-1.425,"hi":-1.35,"m":-1.3875},{"lo":-1.35,"hi":-1.275,"m":-1.3125},{"lo":-1.275,"hi":-1.2,"m":-1.2375},
{"lo":-1.2,"hi":-1.125,"m":-1.1625},{"lo":-1.125,"hi":-1.05,"m":-1.0875},{"lo":-1.05,"hi":-0.975,"m":-1.0125},{"lo":-0.975,"hi":-0.9,"m":-0.9375},
{"lo":-0.9,"hi":-0.825,"m":-0.8625},{"lo":-0.825,"hi":-0.75,"m":-0.7875},{"lo":-0.75,"hi":-0.675,"m":-0.7125},{"lo":-0.675,"hi":-0.6,"m":-0.6375},
{"lo":-0.6,"hi":-0.525,"m":-0.5625},{"lo":-0.525,"hi":-0.45,"m":-0.4875},{"lo":-0.45,"hi":-0.375,"m":-0.4125},{"lo":-0.375,"hi":-0.3,"m":-0.3375},
{"lo":-0.3,"hi":-0.225,"m":-0.2625},{"lo":-0.225,"hi":-0.15,"m":-0.1875},{"lo":-0.15,"hi":-0.075,"m":-0.1125},{"lo":-0.075,"hi":0,"m":-0.0375},
{"lo":0,"hi":0.075,"m":0.0375},{"lo":0.075,"hi":0.15,"m":0.1125},{"lo":0.15,"hi":0.225,"m":0.1875},{"lo":0.225,"hi":0.3,"m":0.2625},
{"lo":0.3,"hi":0.375,"m":0.3375},{"lo":0.375,"hi":0.45,"m":0.4125},{"lo":0.45,"hi":0.525,"m":0.4875},{"lo":0.525,"hi":0.6,"m":0.5625},
{"lo":0.6,"hi":0.675,"m":0.6375},{"lo":0.675,"hi":0.75,"m":0.7125},{"lo":0.75,"hi":0.825,"m":0.7875},{"lo":0.825,"hi":0.9,"m":0.8625},
{"lo":0.9,"hi":0.975,"m":0.9375},{"lo":0.975,"hi":1.05,"m":1.0125},{"lo":1.05,"hi":1.125,"m":1.0875},{"lo":1.125,"hi":1.2,"m":1.1625},
{"lo":1.2,"hi":1.275,"m":1.2375},{"lo":1.275,"hi":1.35,"m":1.3125},{"lo":1.35,"hi":1.425,"m":1.3875},{"lo":1.425,"hi":1.5,"m":1.4625}
]},
"mark": {"type": "rect", "strokeWidth": 0.6},
"encoding": {
"y": {"field": "lo", "type": "quantitative", "scale": {"domain": [-1.5, 1.5], "nice": false, "zero": false},
"axis": {"orient": "right", "title": "Change in accuracy", "titleAngle": -90, "titleBaseline": "top", "titleFontSize": 18.5, "titleFontWeight": "normal", "titleColor": "#262626", "titlePadding": 12, "values": [-1.5, -1, -0.5, 0, 0.5, 1, 1.5], "labelExpr": "datum.value < 0 ? '-' + format(-datum.value, '.1f') : format(datum.value, '.1f')", "labelFontSize": 18.5, "labelColor": "#262626", "labelFlush": false, "labelOverlap": false, "tickSize": 6, "tickColor": "#262626", "tickWidth": 1.2, "labelPadding": 2, "domain": false, "grid": false}},
"y2": {"field": "hi"},
"fill": {"field": "m", "type": "quantitative", "legend": null, "scale": {"type": "linear", "domain": [-1.5, -1.25, -1, -0.75, -0.5, -0.25, 0, 0.25, 0.5, 0.75, 1, 1.25, 1.5], "range": ["#5a2f06", "#94520a", "#c57718", "#dc9e48", "#ebc886", "#f6e4bf", "#f2f1ee", "#cfeee9", "#84dad0", "#22c0b1", "#00978a", "#006b5f", "#01382d"], "interpolate": "rgb", "clamp": true}},
"stroke": {"field": "m", "type": "quantitative", "legend": null, "scale": {"type": "linear", "domain": [-1.5, -1.25, -1, -0.75, -0.5, -0.25, 0, 0.25, 0.5, 0.75, 1, 1.25, 1.5], "range": ["#5a2f06", "#94520a", "#c57718", "#dc9e48", "#ebc886", "#f6e4bf", "#f2f1ee", "#cfeee9", "#84dad0", "#22c0b1", "#00978a", "#006b5f", "#01382d"], "interpolate": "rgb", "clamp": true}}
}
}
]
}
